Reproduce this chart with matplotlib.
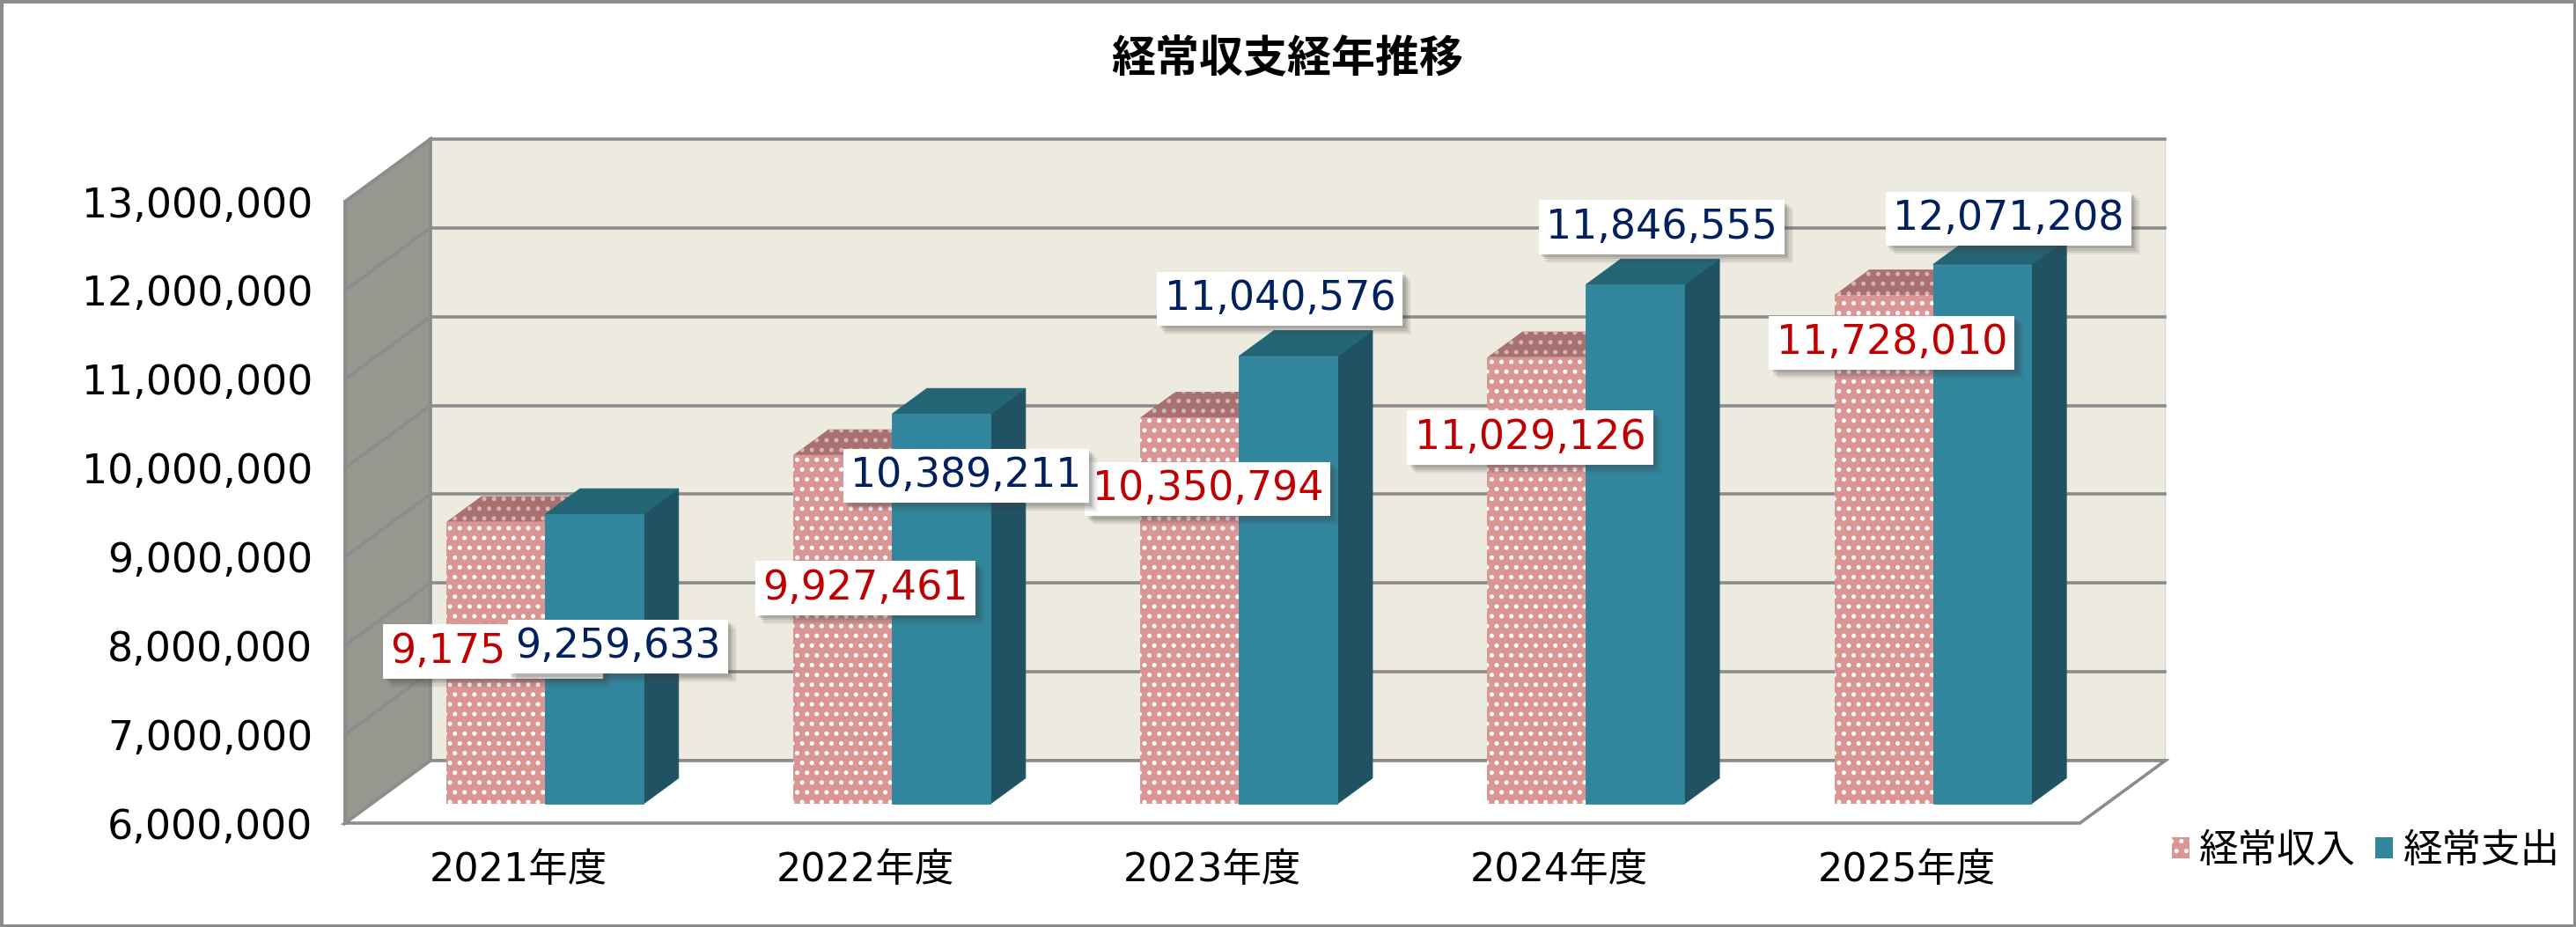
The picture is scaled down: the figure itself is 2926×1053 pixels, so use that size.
import matplotlib
matplotlib.use('Agg')
import matplotlib.pyplot as plt
import matplotlib.patheffects as pe
from matplotlib.patches import Polygon, Rectangle, Patch
from matplotlib.lines import Line2D

# ---------------- data ----------------
categories = ['2021年度', '2022年度', '2023年度', '2024年度', '2025年度']
series_names = ['経常収入', '経常支出']
income = [9175300, 9927461, 10350794, 11029126, 11728010]
expense = [9259633, 10389211, 11040576, 11846555, 12071208]
y_ticks = [6000000, 7000000, 8000000, 9000000, 10000000, 11000000, 12000000, 13000000]
title = '経常収支経年推移'

# ---------------- style ----------------
W, H, DPI = 2926, 1053, 200
plt.rcParams['hatch.linewidth'] = 1.0
NUM_FONT = ['DejaVu Sans', 'Noto Sans CJK JP']
CJK_FONT = ['Noto Sans CJK JP', 'DejaVu Sans']

DX = 0.246          # depth offset in category units
DY = 704000         # depth offset in value units
F0, F1 = 0.31, 0.72 # bar depth placement (fraction of floor depth)
BW = 0.284          # bar width in category units
GRID = '#8C8C8C'
WALL_SIDE = '#97978F'
WALL_BACK = '#EDEBE0'
PINK, PINK_TOP = '#D99694', '#A87171'
TEAL, TEAL_TOP, TEAL_SIDE = '#31859C', '#246575', '#1F5262'
RED, NAVY = '#C00000', '#002060'

# label offsets (reference px) relative to front-top centre of each bar
inc_off = [(-1.6, -79), (14, -81), (11, -43.6), (-4, -49), (5, -29)]
exp_off = [(14.4, -80.5), (15, -37.6), (-5, 35), (16, 35), (16, 28)]
OFFK = 1.866 * 72 / DPI

fig = plt.figure(figsize=(W / DPI, H / DPI), dpi=DPI)
fig.patch.set_facecolor('white')
ax = fig.add_axes([392 / W, 118 / H, (2362.5 - 392) / W, (824 - 118) / H])
ax.set_xlim(-0.5, len(categories) - 0.5)
ymin, ymax = y_ticks[0], y_ticks[-1]
ax.set_ylim(ymin, ymax)
ax.patch.set_visible(False)
for s in ax.spines.values():
    s.set_visible(False)

xl, xr = -0.5, len(categories) - 0.5
glw = 1.3

# left side wall
ax.add_patch(Polygon([(xl, ymin), (xl, ymax), (xl + DX, ymax + DY), (xl + DX, ymin + DY)],
                     closed=True, fc=WALL_SIDE, ec=GRID, lw=glw, zorder=1, clip_on=False))
# back wall
ax.add_patch(Polygon([(xl + DX, ymin + DY), (xr + DX, ymin + DY), (xr + DX, ymax + DY), (xl + DX, ymax + DY)],
                     closed=True, fc=WALL_BACK, ec='#D8D8D0', lw=0.5, zorder=1, clip_on=False))
# gridlines
for v in y_ticks:
    ax.add_line(Line2D([xl + DX, xr + DX], [v + DY, v + DY], color=GRID, lw=glw, zorder=2, clip_on=False))
    ax.add_line(Line2D([xl, xl + DX], [v, v + DY], color=GRID, lw=glw, zorder=2, clip_on=False))
ax.add_line(Line2D([xl + DX, xl + DX], [ymin + DY, ymax + DY], color=GRID, lw=glw, zorder=2, clip_on=False))
ax.add_line(Line2D([xl, xl], [ymin, ymax], color=GRID, lw=glw, zorder=2, clip_on=False))
# floor
ax.add_patch(Polygon([(xl, ymin), (xr, ymin), (xr + DX, ymin + DY), (xl + DX, ymin + DY)],
                     closed=True, fc='white', ec=GRID, lw=glw, zorder=2.5, clip_on=False))


def bar3d(xleft, v, fc_front, fc_top, fc_side, hatch, z):
    x0 = xleft + F0 * DX
    x1 = x0 + BW
    yb = ymin + F0 * DY
    yt = v + F0 * DY
    ddx = (F1 - F0) * DX
    ddy = (F1 - F0) * DY
    faces = [
        ([(x1, yb), (x1 + ddx, yb + ddy), (x1 + ddx, yt + ddy), (x1, yt)], fc_side),
        ([(x0, yt), (x1, yt), (x1 + ddx, yt + ddy), (x0 + ddx, yt + ddy)], fc_top),
        ([(x0, yb), (x1, yb), (x1, yt), (x0, yt)], fc_front),
    ]
    for idx, (pts, fc) in enumerate(faces):
        if hatch:
            hc = 'white' if idx == 2 else '#D9B3B3'
            p = Polygon(pts, closed=True, fc=fc, ec=hc, lw=0, hatch=hatch, zorder=z, clip_on=False)
        else:
            p = Polygon(pts, closed=True, fc=fc, ec=fc, lw=0.3, zorder=z, clip_on=False)
        ax.add_patch(p)
    return ((x0 + x1) / 2, yt)


anchors_inc, anchors_exp = [], []
for i in range(len(categories)):
    anchors_inc.append(bar3d(i - BW, income[i], PINK, PINK_TOP, PINK_TOP, '...', 3 + i * 0.1))
    anchors_exp.append(bar3d(i, expense[i], TEAL, TEAL_TOP, TEAL_SIDE, None, 3.05 + i * 0.1))

shadow = [pe.SimplePatchShadow(offset=(k, -k), shadow_rgbFace='#404040', alpha=a)
          for k, a in zip([3.6, 2.8, 2.0, 1.2], [0.07, 0.10, 0.13, 0.16])] + [pe.Normal()]


def label(anchor, off, value, color, z):
    ox, oy = off[0] * OFFK, off[1] * OFFK
    t = ax.annotate(f'{value:,}', xy=anchor, xycoords='data', xytext=(ox, oy),
                    textcoords='offset points', ha='center', va='center',
                    fontsize=16.5, family=NUM_FONT, color=color, annotation_clip=False,
                    bbox=dict(boxstyle='square,pad=0.18', fc='white', ec='none'), zorder=z)
    t.get_bbox_patch().set_path_effects(shadow)


for i in range(len(categories)):
    label(anchors_inc[i], inc_off[i], income[i], RED, 10)
for i in range(len(categories)):
    label(anchors_exp[i], exp_off[i], expense[i], NAVY, 12)

# axes ticks
ax.set_yticks(y_ticks)
ax.set_yticklabels([f'{v:,}' for v in y_ticks], family=NUM_FONT, fontsize=16.5, color='black')
ax.set_xticks(range(len(categories)))
ax.set_xticklabels(categories, family=NUM_FONT, fontsize=16, color='black')
ax.tick_params(axis='y', length=0, pad=13.3)
ax.tick_params(axis='x', length=0, pad=11.5)

# title
fig.text(1462 / W, 1 - 68 / H, title, ha='center', va='center', fontsize=18,
         fontweight='bold', family=CJK_FONT)

# legend
handles = [Patch(facecolor=PINK, edgecolor='white', hatch='...', lw=0),
           Patch(facecolor=TEAL, edgecolor=TEAL, lw=0)]
fig.legend(handles, series_names, loc='center left', bbox_to_anchor=(2467 / W, 1 - 966 / H),
           ncol=2, frameon=False, prop={'family': CJK_FONT, 'size': 16},
           handlelength=0.45, handleheight=0.45, handletextpad=0.25, columnspacing=0.5,
           borderpad=0, borderaxespad=0)

# outer frame
fig.add_artist(Rectangle((0, 0), 1, 1, transform=fig.transFigure, fill=False,
                         ec=GRID, lw=2.5, zorder=20))

fig.savefig('out.png', dpi=DPI)
